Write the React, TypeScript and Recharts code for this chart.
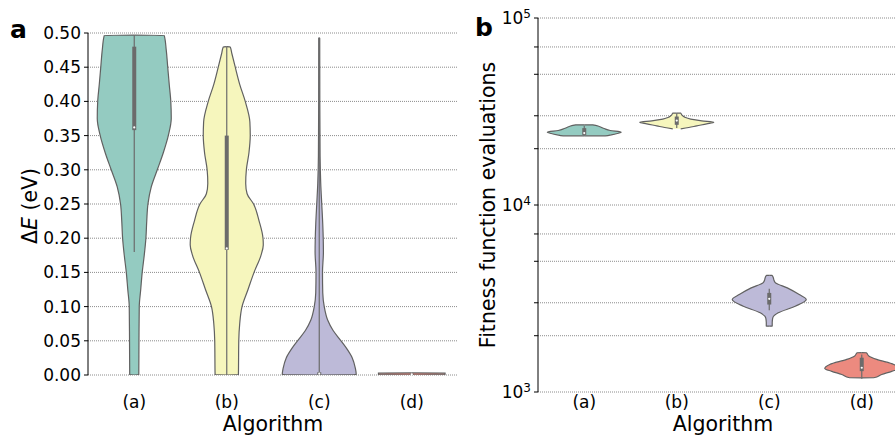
import React from 'react'
import { ComposedChart, Area, Line, XAxis, YAxis, CartesianGrid } from 'recharts'

const categories = ['(a)', '(b)', '(c)', '(d)']
const fills = ['#94cbc1', '#f6f6bd', '#bdbad8', '#ec8a7f']
const edge = '#616161'
const boxGray = '#6b6b6b'

// panel a: ΔE (eV) levels and violin half widths (category units)
const deltaE_a = [0, 0.0005, 0.05, 0.1, 0.125, 0.15, 0.175, 0.2, 0.225, 0.25, 0.275, 0.3, 0.325, 0.35, 0.375, 0.4, 0.425, 0.45, 0.475, 0.4965, 0.497]
const halfW_a = [0, 0.049, 0.051, 0.054, 0.07, 0.086, 0.108, 0.126, 0.135, 0.148, 0.184, 0.249, 0.314, 0.368, 0.4, 0.395, 0.378, 0.362, 0.346, 0.324, 0]
const deltaE_b = [0, 0.0005, 0.05, 0.075, 0.1, 0.125, 0.15, 0.175, 0.19, 0.2, 0.225, 0.25, 0.265, 0.28, 0.3, 0.325, 0.35, 0.37, 0.4, 0.425, 0.45, 0.47, 0.4795, 0.48]
const halfW_b = [0, 0.126, 0.13, 0.14, 0.165, 0.23, 0.295, 0.37, 0.395, 0.392, 0.35, 0.29, 0.22, 0.205, 0.212, 0.24, 0.254, 0.25, 0.2, 0.14, 0.092, 0.055, 0.038, 0]
const deltaE_c = [0, 0.0005, 0.01, 0.025, 0.04, 0.05, 0.065, 0.08, 0.1, 0.12, 0.15, 0.18, 0.2, 0.22, 0.25, 0.28, 0.32, 0.4, 0.4925, 0.493]
const halfW_c = [0, 0.4, 0.39, 0.357, 0.29, 0.235, 0.15, 0.092, 0.054, 0.038, 0.035, 0.045, 0.043, 0.038, 0.027, 0.016, 0.009, 0.006, 0.005, 0]
const deltaE_d = [0, 0.0003, 0.0015, 0.0027, 0.003]
const halfW_d = [0, 0.36, 0.36, 0.36, 0]

const whiskerLowA = [0.18, 0, 0, 0]
const whiskerHighA = [0.497, 0.48, 0.493, 0.002]
const q1A = [0.358, 0.183, 0, 0]
const q3A = [0.48, 0.35, 0.004, 0.002]
const medianA = [0.362, 0.185, 0.002, 0.001]

// panel b: fitness function evaluations and violin half widths
const evals_a = [23430, 23440, 23730, 24120, 24530, 25020, 25640, 26280, 26840, 26850]
const halfWB_a = [0, 0.227, 0.292, 0.357, 0.4, 0.281, 0.216, 0.162, 0.092, 0]
const evals_b = [25550, 25960, 26510, 27170, 27740, 28190, 28790, 29490, 30350, 30990, 31000]
const halfWB_b = [0.043, 0.13, 0.216, 0.324, 0.4, 0.27, 0.151, 0.086, 0.054, 0.043, 0]
const evals_c = [2249, 2250, 2350, 2494, 2651, 2875, 3121, 3318, 3603, 3845, 3990, 4100, 4207, 4208]
const halfWB_c = [0, 0.032, 0.032, 0.038, 0.097, 0.281, 0.4, 0.324, 0.195, 0.065, 0.049, 0.043, 0.027, 0]
const evals_d = [1191, 1192, 1241, 1290, 1336, 1404, 1494, 1560, 1621, 1622]
const halfWB_d = [0, 0.13, 0.216, 0.324, 0.4, 0.346, 0.162, 0.076, 0.049, 0]

const whiskerLowB = [23440, 25770, 2737, 1178]
const whiskerHighB = [26510, 30990, 3561, 1588]
const q1B = [23700, 26840, 2936, 1293]
const q3B = [25770, 29720, 3388, 1525]
const medianB = [24240, 28290, 3148, 1348]

const ticksA = [0, 0.05, 0.1, 0.15, 0.2, 0.25, 0.3, 0.35, 0.4, 0.45, 0.5]
const ticksB = [1000, 2000, 3000, 4000, 5000, 6000, 7000, 8000, 9000, 10000, 20000, 30000, 40000, 50000, 60000, 70000, 80000, 90000, 100000]
const positions = [1, 2, 3, 4]

const violinRows = (levels: number[], widths: number[], pos: number) =>
  levels.map((y, i) => ({ y, span: [pos - widths[i], pos + widths[i]] }))

const segment = (lo: number, hi: number, pos: number) => [
  { y: lo, x: pos },
  { y: hi, x: pos },
]

function CategoryTick(props: any) {
  const { x, y, payload } = props
  return (
    <text x={x} y={y} dy={12} textAnchor="middle" fontSize={17} fill="#000">
      {categories[payload.value - 1]}
    </text>
  )
}

function DecimalTick(props: any) {
  const { x, y, payload } = props
  return (
    <text x={x} y={y} dy={6} textAnchor="end" fontSize={17} fill="#000">
      {payload.value.toFixed(2)}
    </text>
  )
}

function PowerTick(props: any) {
  const { x, y, payload } = props
  const exp = Math.log10(payload.value)
  if (Math.abs(exp - Math.round(exp)) > 1e-9) return null
  return (
    <text x={x} y={y} dy={6} textAnchor="end" fontSize={17} fill="#000">
      <tspan>10</tspan>
      <tspan dy={-5.7} fontSize={12}>
        {Math.round(exp)}
      </tspan>
    </text>
  )
}

export default function App() {
  const violinsA = [
    violinRows(deltaE_a, halfW_a, 1),
    violinRows(deltaE_b, halfW_b, 2),
    violinRows(deltaE_c, halfW_c, 3),
    violinRows(deltaE_d, halfW_d, 4),
  ]
  const violinsB = [
    violinRows(evals_a, halfWB_a, 1),
    violinRows(evals_b, halfWB_b, 2),
    violinRows(evals_c, halfWB_c, 3),
    violinRows(evals_d, halfWB_d, 4),
  ]

  const renderInner = (lows: number[], highs: number[], q1s: number[], q3s: number[], meds: number[], key: string) =>
    positions.flatMap((pos, i) => [
      <Line
        key={`${key}-w${i}`}
        data={segment(lows[i], highs[i], pos)}
        dataKey="x"
        stroke={boxGray}
        strokeWidth={1.2}
        dot={false}
        isAnimationActive={false}
      />,
      <Line
        key={`${key}-b${i}`}
        data={segment(q1s[i], q3s[i], pos)}
        dataKey="x"
        stroke={boxGray}
        strokeWidth={4}
        dot={false}
        isAnimationActive={false}
      />,
      <Line
        key={`${key}-m${i}`}
        data={[{ y: meds[i], x: pos }]}
        dataKey="x"
        stroke="none"
        dot={{ r: 1.1, fill: '#ffffff', stroke: 'none' }}
        isAnimationActive={false}
      />,
    ])

  return (
    <div
      style={{
        position: 'fixed',
        left: 0,
        top: 0,
        width: 895,
        height: 437,
        overflow: 'hidden',
        background: '#fff',
        fontFamily: '"DejaVu Sans", sans-serif',
      }}
    >
      <div style={{ position: 'absolute', left: 0, top: 0 }}>
        <ComposedChart layout="vertical" width={460} height={437} margin={{ top: 33, right: 2, bottom: 0, left: 0 }}>
          <CartesianGrid vertical={false} stroke="#6e6e6e" strokeDasharray="1 1" strokeWidth={0.8} />
          <XAxis
            type="number"
            domain={[0.5, 4.5]}
            allowDataOverflow
            ticks={positions}
            axisLine={false}
            tickLine={false}
            tickSize={6}
            tickMargin={15}
            height={62}
            tick={<CategoryTick />}
            label={(p: any) => {
              const vb = p.viewBox || {}
              return (
                <text x={vb.x + vb.width / 2} y={vb.y + 56} textAnchor="middle" fontSize={20.5} fill="#000">
                  Algorithm
                </text>
              )
            }}
          />
          <YAxis
            type="number"
            dataKey="y"
            reversed
            domain={[0, 0.5]}
            allowDataOverflow
            ticks={ticksA}
            width={88}
            tickSize={4}
            tickMargin={3}
            axisLine={{ stroke: '#000' }}
            tickLine={{ stroke: '#000' }}
            tick={<DecimalTick />}
            label={(p: any) => {
              const vb = p.viewBox || {}
              const cy = vb.y + vb.height / 2 + 2
              return (
                <text x={36.5} y={cy} transform={`rotate(-90, 36.5, ${cy})`} textAnchor="middle" fontSize={20.5} fill="#000">
                  <tspan>Δ</tspan>
                  <tspan fontStyle="italic">E</tspan>
                  <tspan> (eV)</tspan>
                </text>
              )
            }}
          />
          {violinsA.map((rows, i) => (
            <Area
              key={`va${i}`}
              data={rows}
              dataKey="span"
              type="monotone"
              fill={fills[i]}
              fillOpacity={1}
              stroke={edge}
              strokeWidth={1.2}
              dot={false}
              activeDot={false}
              isAnimationActive={false}
            />
          ))}
          {renderInner(whiskerLowA, whiskerHighA, q1A, q3A, medianA, 'a')}
        </ComposedChart>
      </div>

      <div style={{ position: 'absolute', left: 460, top: 0 }}>
        <ComposedChart layout="vertical" width={460} height={437} margin={{ top: 18, right: 12, bottom: 0, left: 0 }}>
          <CartesianGrid vertical={false} stroke="#6e6e6e" strokeDasharray="1 1" strokeWidth={0.8} />
          <XAxis
            type="number"
            domain={[0.5, 4.5]}
            allowDataOverflow
            ticks={positions}
            axisLine={false}
            tickLine={false}
            tickSize={0}
            tickMargin={4}
            height={45}
            tick={<CategoryTick />}
            label={(p: any) => {
              const vb = p.viewBox || {}
              return (
                <text x={vb.x + vb.width / 2} y={vb.y + 39} textAnchor="middle" fontSize={20.5} fill="#000">
                  Algorithm
                </text>
              )
            }}
          />
          <YAxis
            type="number"
            dataKey="y"
            reversed
            scale="log"
            domain={[1000, 100000]}
            allowDataOverflow
            ticks={ticksB}
            width={78}
            tickSize={4}
            tickMargin={3}
            axisLine={{ stroke: '#000' }}
            tickLine={{ stroke: '#000' }}
            tick={<PowerTick />}
            label={(p: any) => {
              const vb = p.viewBox || {}
              const cy = vb.y + vb.height / 2
              return (
                <text x={35} y={cy} transform={`rotate(-90, 35, ${cy})`} textAnchor="middle" fontSize={20.5} fill="#000">
                  Fitness function evaluations
                </text>
              )
            }}
          />
          {violinsB.map((rows, i) => (
            <Area
              key={`vb${i}`}
              data={rows}
              dataKey="span"
              type="monotone"
              fill={fills[i]}
              fillOpacity={1}
              stroke={edge}
              strokeWidth={1.2}
              dot={false}
              activeDot={false}
              isAnimationActive={false}
            />
          ))}
          {renderInner(whiskerLowB, whiskerHighB, q1B, q3B, medianB, 'b')}
        </ComposedChart>
      </div>

      <svg width={895} height={437} style={{ position: 'absolute', left: 0, top: 0, pointerEvents: 'none' }}>
        <text x={10} y={38} fontSize={25} fontWeight="bold" fill="#000">
          a
        </text>
        <text x={475} y={36} fontSize={25} fontWeight="bold" fill="#000">
          b
        </text>
      </svg>
    </div>
  )
}
